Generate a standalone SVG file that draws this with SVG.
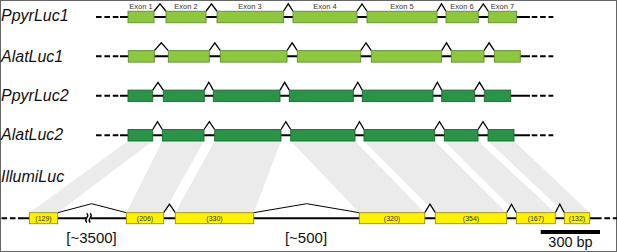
<svg xmlns="http://www.w3.org/2000/svg" width="617" height="252" viewBox="0 0 617 252">
<style>
.lbl{font-family:"Liberation Sans",Arial,sans-serif;font-style:italic;font-size:16px;fill:#111}
.ex{font-family:"Liberation Sans",Arial,sans-serif;font-size:7.5px;fill:#333;text-anchor:middle}
.yl{font-family:"Liberation Sans",Arial,sans-serif;font-size:7px;fill:#333;text-anchor:middle}
.big{font-family:"Liberation Sans",Arial,sans-serif;font-size:15px;fill:#111;text-anchor:middle}
.ln{stroke:#000;stroke-width:2;fill:none}
.ds{stroke:#000;stroke-width:2;fill:none;stroke-dasharray:5.6 2.8}
.lg{fill:#8dc63f;stroke:#5e8f2d;stroke-width:0.9}
.dg{fill:#2b9348;stroke:#1b6a30;stroke-width:0.9}
.yw{fill:#fff200;stroke:#9a8f00;stroke-width:0.9}
.cr{fill:#fff;stroke:#000;stroke-width:1.3;stroke-linejoin:miter}
.rf{fill:none;stroke:#000;stroke-width:1}
.band{fill:#ebebeb}
</style>
<rect x="0.5" y="0.5" width="616" height="251" fill="#fff" stroke="#666" stroke-width="1"/>

<g id="connectors">
<polygon class="band" points="128,141 152.7,141 57.7,212.7 29.3,212.7"/>
<polygon class="band" points="162.3,141 204,141 163.7,212.7 126.3,212.7"/>
<polygon class="band" points="214.7,141 281,141 253.7,212.7 175.3,212.7"/>
<polygon class="band" points="290.7,141 355,141 424.7,212.7 359.3,212.7"/>
<polygon class="band" points="364,141 434.7,141 506.7,212.7 435.3,212.7"/>
<polygon class="band" points="444.3,141 478,141 555.3,212.7 516.3,212.7"/>
<polygon class="band" points="488,141 514,141 589.7,212.7 564.3,212.7"/>
</g>

<g id="exon-labels">
<text class="ex" x="141" y="8.7">Exon 1</text>
<text class="ex" x="186" y="8.7">Exon 2</text>
<text class="ex" x="250" y="8.7">Exon 3</text>
<text class="ex" x="325" y="8.7">Exon 4</text>
<text class="ex" x="402" y="8.7">Exon 5</text>
<text class="ex" x="462" y="8.7">Exon 6</text>
<text class="ex" x="502.5" y="8.7">Exon 7</text>
</g>

<g id="PpyrLuc1">
<text class="lbl" x="1" y="20.5">PpyrLuc1</text>
<line class="ds" x1="96" y1="17" x2="121" y2="17"/>
<line class="ln" x1="120" y1="17" x2="530" y2="17"/>
<line class="ds" x1="531.7" y1="17" x2="553.3" y2="17"/>
<polyline class="cr" points="154,11.25 160,3.8 166,11.25"/>
<polyline class="cr" points="206,11.25 211.5,3.8 217,11.25"/>
<polyline class="cr" points="283.5,11.25 288.25,3.8 293,11.25"/>
<polyline class="cr" points="357,11.25 362,3.8 367,11.25"/>
<polyline class="cr" points="437,11.25 441.5,3.8 446,11.25"/>
<polyline class="cr" points="478.3,11.25 483.3,3.8 488.3,11.25"/>
<rect class="lg" x="128" y="11.25" width="26" height="11.5"/>
<rect class="lg" x="166" y="11.25" width="40" height="11.5"/>
<rect class="lg" x="217" y="11.25" width="66.5" height="11.5"/>
<rect class="lg" x="293" y="11.25" width="64" height="11.5"/>
<rect class="lg" x="367" y="11.25" width="70" height="11.5"/>
<rect class="lg" x="446" y="11.25" width="32.3" height="11.5"/>
<rect class="lg" x="488.3" y="11.25" width="28.4" height="11.5"/>
</g>

<g id="AlatLuc1">
<text class="lbl" x="1" y="61.5">AlatLuc1</text>
<line class="ds" x1="96" y1="56.3" x2="121" y2="56.3"/>
<line class="ln" x1="120" y1="56.3" x2="530" y2="56.3"/>
<line class="ds" x1="531.7" y1="56.3" x2="553.3" y2="56.3"/>
<polyline class="cr" points="154.3,50.6 161.3,42.8 168.3,50.6"/>
<polyline class="cr" points="209.3,50.6 214.8,42.8 220.3,50.6"/>
<polyline class="cr" points="287,50.6 292.15,42.8 297.3,50.6"/>
<polyline class="cr" points="360.7,50.6 366,42.8 371.3,50.6"/>
<polyline class="cr" points="441.7,50.6 446.5,42.8 451.3,50.6"/>
<polyline class="cr" points="484,50.6 489.15,42.8 494.3,50.6"/>
<rect class="lg" x="128.3" y="50.6" width="26" height="11.5"/>
<rect class="lg" x="168.3" y="50.6" width="41" height="11.5"/>
<rect class="lg" x="220.3" y="50.6" width="66.7" height="11.5"/>
<rect class="lg" x="297.3" y="50.6" width="63.4" height="11.5"/>
<rect class="lg" x="371.3" y="50.6" width="70.4" height="11.5"/>
<rect class="lg" x="451.3" y="50.6" width="32.7" height="11.5"/>
<rect class="lg" x="494.3" y="50.6" width="26" height="11.5"/>
</g>

<g id="PpyrLuc2">
<text class="lbl" x="1" y="100.5">PpyrLuc2</text>
<line class="ds" x1="96" y1="95.8" x2="121" y2="95.8"/>
<line class="ln" x1="120" y1="95.8" x2="530" y2="95.8"/>
<line class="ds" x1="531.7" y1="95.8" x2="553.3" y2="95.8"/>
<polyline class="cr" points="152.7,90.1 158,82.3 163.3,90.1"/>
<polyline class="cr" points="204.3,90.1 208.8,82.3 213.3,90.1"/>
<polyline class="cr" points="280,90.1 284.65,82.3 289.3,90.1"/>
<polyline class="cr" points="353.3,90.1 357.8,82.3 362.3,90.1"/>
<polyline class="cr" points="433,90.1 437.35,82.3 441.7,90.1"/>
<polyline class="cr" points="474.7,90.1 479.5,82.3 484.3,90.1"/>
<rect class="dg" x="128" y="90.1" width="24.7" height="11.5"/>
<rect class="dg" x="163.3" y="90.1" width="41" height="11.5"/>
<rect class="dg" x="213.3" y="90.1" width="66.7" height="11.5"/>
<rect class="dg" x="289.3" y="90.1" width="64" height="11.5"/>
<rect class="dg" x="362.3" y="90.1" width="70.7" height="11.5"/>
<rect class="dg" x="441.7" y="90.1" width="33" height="11.5"/>
<rect class="dg" x="484.3" y="90.1" width="26.4" height="11.5"/>
</g>

<g id="AlatLuc2">
<text class="lbl" x="1" y="140">AlatLuc2</text>
<line class="ds" x1="96" y1="135.2" x2="121" y2="135.2"/>
<line class="ln" x1="120" y1="135.2" x2="530" y2="135.2"/>
<line class="ds" x1="531.7" y1="135.2" x2="553.3" y2="135.2"/>
<polyline class="cr" points="152.7,129.5 157.5,121.7 162.3,129.5"/>
<polyline class="cr" points="204,129.5 209.35,121.7 214.7,129.5"/>
<polyline class="cr" points="281,129.5 285.85,121.7 290.7,129.5"/>
<polyline class="cr" points="355,129.5 359.5,121.7 364,129.5"/>
<polyline class="cr" points="434.7,129.5 439.5,121.7 444.3,129.5"/>
<polyline class="cr" points="478,129.5 483,121.7 488,129.5"/>
<rect class="dg" x="128" y="129.5" width="24.7" height="11.5"/>
<rect class="dg" x="162.3" y="129.5" width="41.7" height="11.5"/>
<rect class="dg" x="214.7" y="129.5" width="66.3" height="11.5"/>
<rect class="dg" x="290.7" y="129.5" width="64.3" height="11.5"/>
<rect class="dg" x="364" y="129.5" width="70.7" height="11.5"/>
<rect class="dg" x="444.3" y="129.5" width="33.7" height="11.5"/>
<rect class="dg" x="488" y="129.5" width="26" height="11.5"/>
</g>

<g id="IllumiLuc">
<text class="lbl" x="1" y="182">IllumiLuc</text>
<line class="ds" x1="1.5" y1="218.2" x2="17.5" y2="218.2"/>
<line class="ln" x1="18" y1="218.2" x2="86.3" y2="218.2"/>
<line class="ln" x1="90.6" y1="218.2" x2="596" y2="218.2"/>
<line class="ds" x1="596" y1="218.2" x2="617" y2="218.2"/>
<path d="M86.8,213.3 q2,2.3 0,4.6 q-2,2.3 0,4.6 M90.2,213.3 q2,2.3 0,4.6 q-2,2.3 0,4.6" fill="none" stroke="#000" stroke-width="1.4"/>
<polyline class="rf" points="57.7,212.7 91.7,203.7 126.3,212.7"/>
<polyline class="rf" points="253.7,212.7 306.7,203.7 359.3,212.7"/>
<polyline class="cr" points="163.7,212.7 169.5,204.2 175.3,212.7"/>
<polyline class="cr" points="424.7,212.7 430,204.2 435.3,212.7"/>
<polyline class="cr" points="506.7,212.7 511.5,204.2 516.3,212.7"/>
<polyline class="cr" points="555.3,212.7 559.8,204.2 564.3,212.7"/>
<rect class="yw" x="29.3" y="212.7" width="28.4" height="11"/>
<rect class="yw" x="126.3" y="212.7" width="37.4" height="11"/>
<rect class="yw" x="175.3" y="212.7" width="78.4" height="11"/>
<rect class="yw" x="359.3" y="212.7" width="65.4" height="11"/>
<rect class="yw" x="435.3" y="212.7" width="71.4" height="11"/>
<rect class="yw" x="516.3" y="212.7" width="39" height="11"/>
<rect class="yw" x="564.3" y="212.7" width="25.4" height="11"/>
<text class="yl" x="43.5" y="220.6">(129)</text>
<text class="yl" x="145" y="220.6">(206)</text>
<text class="yl" x="214.5" y="220.6">(330)</text>
<text class="yl" x="392" y="220.6">(320)</text>
<text class="yl" x="471" y="220.6">(354)</text>
<text class="yl" x="535.8" y="220.6">(167)</text>
<text class="yl" x="577" y="220.6">(132)</text>
<text class="big" x="91.5" y="243">[~3500]</text>
<text class="big" x="306" y="243">[~500]</text>
</g>

<g id="scale-bar">
<rect x="540.7" y="230" width="59.3" height="4" fill="#000"/>
<text class="big" x="570.5" y="247" style="font-size:14.5px">300 bp</text>
</g>
</svg>
